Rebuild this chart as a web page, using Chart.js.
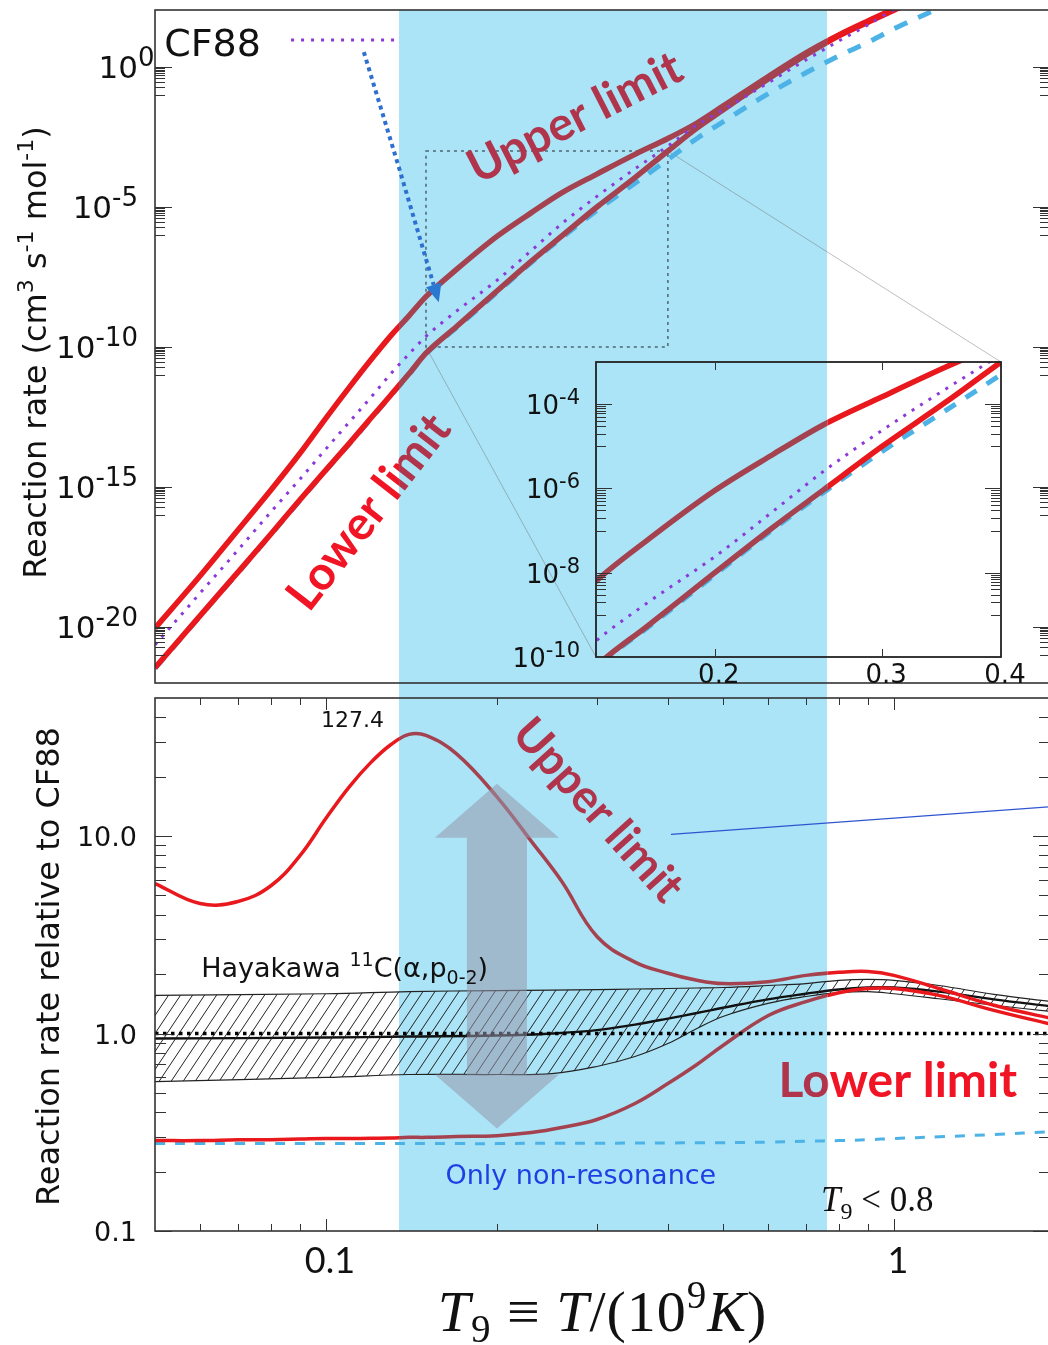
<!DOCTYPE html>
<html>
<head>
<meta charset="utf-8">
<script src="https://cdn.jsdelivr.net/npm/chart.js@4.4.1/dist/chart.umd.min.js"></script>
<style>
  html, body { margin: 0; padding: 0; background: #fff; overflow: hidden; }
  #fig { position: relative; width: 1048px; height: 1345px; overflow: hidden; background: #fff; }
  #fig canvas { position: absolute; }
  #band { position: absolute; background: #aae4f6; }
</style>
</head>
<body>
<div id="fig">
  <div id="band"></div>
  <canvas id="topchart" width="1052" height="690" style="left:0;top:0"></canvas>
  <canvas id="bottomchart" width="1052" height="655" style="left:0;top:690px"></canvas>
  <canvas id="insetchart" width="560" height="345" style="left:480px;top:350px"></canvas>
</div>
<script>
// temperatures (T9) shared by the rate curves
const T9 = [0.05, 0.06, 0.07, 0.08, 0.09, 0.1, 0.11, 0.12, 0.13, 0.14, 0.15, 0.17, 0.2, 0.23, 0.26,
            0.3, 0.35, 0.4, 0.45, 0.5, 0.6, 0.7, 0.8, 0.9, 1.0, 1.2, 1.5, 1.9];

// top panel: reaction rate (cm3 s-1 mol-1)
const rateUpper = [9.1e-21, 6.6e-19, 2.9e-17, 7.8e-16, 1.6e-14, 2.9e-13, 3.7e-12, 3.5e-11, 2.5e-10, 1.3e-9,
                   6.3e-9, 6.0e-8, 8.9e-7, 6.3e-6, 3.2e-5, 1.5e-4, 7.6e-4, 2.8e-3, 1.0e-2, 4.0e-2,
                   0.45, 3.2, 14, 44, 117, 630, 4000, 25000];
const rateLower = [3.5e-22, 2.5e-20, 9.1e-19, 2.1e-17, 3.5e-16, 4.1e-15, 3.7e-14, 2.9e-13, 1.9e-12, 1.1e-11,
                   6.0e-11, 5.5e-10, 1.0e-8, 1.17e-7, 9.1e-7, 1.0e-5, 1.12e-4, 1.0e-3, 6.6e-3, 2.9e-2,
                   0.37, 2.7, 13, 40, 107, 560, 3500, 22000];
const rateCF88 = [2.3e-21, 1.6e-19, 5.6e-18, 1.3e-16, 1.9e-15, 2.3e-14, 2.1e-13, 1.6e-12, 1.1e-11, 5.6e-11,
                  2.4e-10, 1.95e-9, 2.4e-8, 2.8e-7, 2.5e-6, 2.4e-5, 2.3e-4, 1.5e-3, 8.5e-3, 2.9e-2,
                  0.27, 1.8, 8.5, 32, 110, 560, 3500, 22000];
const rateNonRes = [3.3e-22, 2.4e-20, 8.6e-19, 2.0e-17, 3.3e-16, 3.9e-15, 3.5e-14, 2.7e-13, 1.8e-12, 1.05e-11,
                    5.7e-11, 5.0e-10, 8.9e-9, 1.05e-7, 7.9e-7, 7.6e-6, 7.1e-5, 5.0e-4, 2.8e-3, 1.1e-2,
                    0.11, 0.62, 2.5, 7.6, 23, 126, 1000, 7900];

// bottom panel: rate relative to CF88
const ratioUpper = [5.75, 4.55, 4.66, 5.6, 7.96, 12.3, 17.8, 23.6, 29.0, 32.7, 32.3, 26.0, 15.8, 9.4, 5.9,
                    3.1, 2.3, 2.02, 1.86, 1.79, 1.83, 1.97, 2.04, 2.06, 1.97, 1.69, 1.39, 1.19];
const ratioLower = [0.287, 0.287, 0.290, 0.290, 0.292, 0.294, 0.294, 0.295, 0.296, 0.298, 0.298, 0.301, 0.304, 0.315, 0.334,
                    0.367, 0.442, 0.558, 0.697, 0.870, 1.23, 1.45, 1.61, 1.69, 1.69, 1.56, 1.31, 1.11];
const ratioNonRes = [0.277, 0.277, 0.277, 0.277, 0.277, 0.277, 0.277, 0.277, 0.277, 0.277, 0.277, 0.277, 0.277, 0.278, 0.278,
                     0.278, 0.279, 0.279, 0.280, 0.280, 0.282, 0.285, 0.287, 0.290, 0.294, 0.300, 0.308, 0.319];
const cf88T9 = [0.05, 1.9];
const cf88Ratio = [1, 1];

// Hayakawa 11C(a,p0-2) band
const hayT9 = [0.05, 0.1, 0.14, 0.2, 0.25, 0.3, 0.35, 0.4, 0.45, 0.5, 0.6, 0.7, 0.8, 0.9, 1.0, 1.2, 1.5, 1.9];
const hayHigh = [1.56, 1.59, 1.63, 1.65, 1.66, 1.67, 1.68, 1.69, 1.70, 1.71, 1.75, 1.79, 1.86, 1.88, 1.86, 1.75, 1.58, 1.45];
const hayMid = [0.943, 0.954, 0.965, 0.977, 1.0, 1.04, 1.11, 1.19, 1.27, 1.35, 1.49, 1.59, 1.67, 1.71, 1.71, 1.63, 1.49, 1.37];
const hayLow = [0.571, 0.599, 0.62, 0.62, 0.627, 0.681, 0.765, 0.89, 1.06, 1.22, 1.42, 1.54, 1.61, 1.63, 1.59, 1.50, 1.39, 1.29];

// axis ticks
const topExponents = [0, -5, -10, -15, -20];
const insetExponents = [-4, -6, -8, -10];
const insetXTicks = [0.2, 0.3, 0.4];
const ratioTicks = [10, 1, 0.1];
const ratioTickText = ['10.0', '1.0', '0.1'];
const tempTicks = [0.1, 1];
const tempTickText = ['0.1', '1'];

const BAND_T9 = [0.1345, 0.764];   // shaded temperature window
const ZOOM_BOX = [0.15, 0.4, 1e-10, 1e-3];

const RED = '#e8181d';
const BROWN = '#a5424f';
const RED_TXT = '#f01424';
const BROWN_TXT = '#b0344b';
const PURPLE = '#8b3ad8';
const SKY = '#4db3e6';
const AXIS = '#333';
const SANS = '"DejaVu Sans", sans-serif';
const SERIF = '"Liberation Serif", "DejaVu Serif", serif';

let bandX = null;
let insetChart = null;

function pt(chart, x, y) {
  return [chart.scales.x.getPixelForValue(x), chart.scales.y.getPixelForValue(y)];
}

function bandLocal(chart) {
  const o = chart.canvas.offsetLeft;
  return [bandX[0] - o, bandX[1] - o];
}

function clipBand(chart, inside) {
  const ctx = chart.ctx;
  const [l, r] = bandLocal(chart);
  ctx.beginPath();
  if (!inside) ctx.rect(0, 0, chart.width, chart.height);
  ctx.rect(l, 0, r - l, chart.height);
  ctx.clip('evenodd');
}

// red outside the shaded window, brownish inside
Chart.register({
  id: 'bandClip',
  beforeDatasetDraw(chart, args) {
    const ds = chart.data.datasets[args.index];
    if (!ds.band || !bandX) return;
    chart.ctx.save();
    clipBand(chart, ds.band === 'in');
  },
  afterDatasetDraw(chart, args) {
    const ds = chart.data.datasets[args.index];
    if (ds.band && bandX) chart.ctx.restore();
  }
});

function curve(xs, ys, color, width, dash, band, smooth) {
  const ds = {
    data: xs.map((x, i) => ({x: x, y: ys[i]})),
    borderColor: color,
    borderWidth: width,
    borderDash: dash || [],
    pointRadius: 0,
    fill: false,
    clip: 0,
    band: band
  };
  if (smooth) ds.tension = 0.4;
  else ds.cubicInterpolationMode = 'monotone';
  return ds;
}

function rich(ctx, parts, x, y, align) {
  let w = 0;
  parts.forEach(p => { ctx.font = p[1]; w += ctx.measureText(p[0]).width; });
  let cx = align === 'right' ? x - w : (align === 'center' ? x - w / 2 : x);
  ctx.textAlign = 'left';
  ctx.textBaseline = 'alphabetic';
  parts.forEach(p => {
    ctx.font = p[1];
    ctx.fillText(p[0], cx, y + (p[2] || 0));
    cx += ctx.measureText(p[0]).width;
  });
  return w;
}

function limitLabel(chart, text, at, angle, size) {
  const ctx = chart.ctx;
  const [cx, cy] = pt(chart, at[0], at[1]);
  [[RED_TXT, false], [BROWN_TXT, true]].forEach(([col, inside]) => {
    ctx.save();
    clipBand(chart, inside);
    ctx.translate(cx, cy);
    ctx.rotate(angle * Math.PI / 180);
    ctx.font = 'bold ' + size + 'px Lato, "Open Sans", sans-serif';
    ctx.textAlign = 'center';
    ctx.textBaseline = 'middle';
    ctx.fillStyle = col;
    ctx.fillText(text, 0, 0);
    ctx.restore();
  });
}

function frame(chart, width) {
  const {ctx, chartArea: a} = chart;
  ctx.save();
  ctx.strokeStyle = AXIS;
  ctx.lineWidth = width;
  ctx.strokeRect(a.left, a.top, a.right - a.left, a.bottom - a.top);
  ctx.restore();
}

// majors plus the decade just below each of them
function decadeTicks(chart, exps, longLen, shortLen) {
  const {ctx, chartArea: a} = chart;
  const y = chart.scales.y;
  ctx.save();
  ctx.strokeStyle = AXIS;
  ctx.lineWidth = 1;
  ctx.beginPath();
  exps.forEach(e => {
    const m = Math.pow(10, e);
    for (let k = 1; k <= 10; k++) {
      const v = m * k / 10;
      if (v < y.min || v > y.max) continue;
      const p = Math.round(y.getPixelForValue(v)) + 0.5;
      const len = k === 10 ? longLen : shortLen;
      ctx.moveTo(a.left, p); ctx.lineTo(a.left + len, p);
      ctx.moveTo(a.right, p); ctx.lineTo(a.right - len, p);
    }
  });
  ctx.stroke();
  ctx.restore();
}

function logTicksY(chart, decades, longLen, shortLen) {
  const {ctx, chartArea: a} = chart;
  const y = chart.scales.y;
  ctx.save();
  ctx.strokeStyle = AXIS;
  ctx.lineWidth = 1;
  ctx.beginPath();
  decades.forEach(d => {
    for (let k = 1; k <= 9; k++) {
      const v = d * k;
      if (v < y.min || v >= y.max) continue;
      const p = Math.round(y.getPixelForValue(v)) + 0.5;
      const len = k === 1 ? longLen : shortLen;
      ctx.moveTo(a.left, p); ctx.lineTo(a.left + len, p);
      ctx.moveTo(a.right, p); ctx.lineTo(a.right - len, p);
    }
  });
  ctx.stroke();
  ctx.restore();
}

function logTicksX(chart, decades, longLen, shortLen) {
  const {ctx, chartArea: a} = chart;
  const x = chart.scales.x;
  ctx.save();
  ctx.strokeStyle = AXIS;
  ctx.lineWidth = 1;
  ctx.beginPath();
  decades.forEach(d => {
    for (let k = 1; k <= 9; k++) {
      const v = d * k;
      if (v <= x.min || v >= x.max) continue;
      const p = Math.round(x.getPixelForValue(v)) + 0.5;
      const len = k === 1 ? longLen : shortLen;
      ctx.moveTo(p, a.bottom); ctx.lineTo(p, a.bottom - len);
      ctx.moveTo(p, a.top); ctx.lineTo(p, a.top + len);
    }
  });
  ctx.stroke();
  ctx.restore();
}

function baseOptions(xmin, xmax, ymin, ymax, pad) {
  return {
    responsive: false,
    animation: false,
    events: [],
    layout: {padding: pad},
    plugins: {legend: {display: false}, tooltip: {enabled: false}},
    scales: {
      x: {type: 'logarithmic', display: false, min: xmin, max: xmax},
      y: {type: 'logarithmic', display: false, min: ymin, max: ymax}
    }
  };
}

// ---------------- top panel ----------------
const topDecor = {
  id: 'topDecor',
  afterLayout(chart) {
    const x = chart.scales.x;
    const o = chart.canvas.offsetLeft;
    bandX = [x.getPixelForValue(BAND_T9[0]) + o, x.getPixelForValue(BAND_T9[1]) + o];
  },
  beforeDatasetsDraw(chart) {
    const ctx = chart.ctx;
    const [x0, y0] = pt(chart, ZOOM_BOX[0], ZOOM_BOX[3]);
    const [x1, y1] = pt(chart, ZOOM_BOX[1], ZOOM_BOX[2]);
    ctx.save();
    ctx.strokeStyle = '#4e6472';
    ctx.lineWidth = 1.5;
    ctx.setLineDash([3, 4]);
    ctx.strokeRect(x0, y0, x1 - x0, y1 - y0);
    ctx.setLineDash([]);
    if (insetChart) {
      const ia = insetChart.chartArea;
      const ox = insetChart.canvas.offsetLeft - chart.canvas.offsetLeft;
      const oy = insetChart.canvas.offsetTop - chart.canvas.offsetTop;
      ctx.strokeStyle = 'rgba(110,110,110,0.45)';
      ctx.lineWidth = 1;
      ctx.beginPath();
      ctx.moveTo(x1, y0); ctx.lineTo(ia.right + ox, ia.top + oy);
      ctx.moveTo(x0, y1); ctx.lineTo(ia.left + ox, ia.bottom + oy);
      ctx.stroke();
    }
    ctx.restore();
  },
  afterDraw(chart) {
    const ctx = chart.ctx;
    const a = chart.chartArea;
    frame(chart, 1.6);
    decadeTicks(chart, topExponents, 17, 10);

    // y tick labels 10^n
    ctx.save();
    ctx.fillStyle = '#111';
    topExponents.forEach(e => {
      const y = chart.scales.y.getPixelForValue(Math.pow(10, e));
      const parts = [['10', '31px ' + SANS, 0], [String(e), '26px ' + SANS, -12]];
      ctx.font = parts[0][1];
      const bw = ctx.measureText('10').width;
      const right = a.left - 17;
      if (e === 0) rich(ctx, parts, right - bw, y + 11, 'left');
      else rich(ctx, parts, right, y + 11, 'right');
    });
    // y title
    ctx.translate(a.left - 120, (a.top + a.bottom) / 2 + 6);
    ctx.rotate(-Math.PI / 2);
    const b = '32px ' + SANS, s = '22px ' + SANS;
    rich(ctx, [['Reaction rate (cm', b, 0], ['3', s, -13], [' s', b, 0], ['-1', s, -13],
               [' mol', b, 0], ['-1', s, -13], [')', b, 0]], 0, 11, 'center');
    ctx.restore();

    // CF88 legend entry
    ctx.save();
    ctx.fillStyle = '#111';
    ctx.font = '38px ' + SANS;
    ctx.textBaseline = 'alphabetic';
    const [tx, ty] = pt(chart, 0.0519, 2.47);
    ctx.fillText('CF88', tx, ty);
    const [lx0, ly] = pt(chart, 0.0868, 9.2);
    const [lx1] = pt(chart, BAND_T9[0], 9.2);
    ctx.strokeStyle = PURPLE;
    ctx.lineWidth = 3;
    ctx.setLineDash([3, 7]);
    ctx.beginPath(); ctx.moveTo(lx0, ly); ctx.lineTo(lx1, ly); ctx.stroke();

    // dotted pointer arrow
    const path = [[0.1166, 3.4], [0.1345, 2.47e-4], [0.158, 4.0e-9]].map(p => pt(chart, p[0], p[1]));
    const tip = path[2], prev = path[1];
    const ang = Math.atan2(tip[1] - prev[1], tip[0] - prev[0]);
    const hl = 18, hw = 8;
    const bx = tip[0] - hl * Math.cos(ang), by = tip[1] - hl * Math.sin(ang);
    ctx.strokeStyle = '#2f6fcf';
    ctx.lineWidth = 4;
    ctx.setLineDash([4, 4]);
    ctx.beginPath();
    ctx.moveTo(path[0][0], path[0][1]);
    ctx.lineTo(path[1][0], path[1][1]);
    ctx.lineTo(bx, by);
    ctx.stroke();
    ctx.setLineDash([]);
    ctx.fillStyle = '#2a78d0';
    ctx.beginPath();
    ctx.moveTo(tip[0], tip[1]);
    ctx.lineTo(bx + hw * Math.sin(ang), by - hw * Math.cos(ang));
    ctx.lineTo(bx - hw * Math.sin(ang), by + hw * Math.cos(ang));
    ctx.closePath();
    ctx.fill();
    ctx.restore();

    limitLabel(chart, 'Upper limit', [0.2745, 0.0151], -27, 47);
    limitLabel(chart, 'Lower limit', [0.119, 1.26e-16], -52, 47);
  }
};

const topChart = new Chart(document.getElementById('topchart'), {
  type: 'line',
  data: {
    datasets: [
      curve(T9, rateCF88, PURPLE, 3, [3, 7]),
      curve(T9, rateUpper, RED, 5.5, null, 'out'),
      curve(T9, rateUpper, BROWN, 5.5, null, 'in'),
      curve(T9, rateLower, RED, 5.5, null, 'out'),
      curve(T9, rateLower, BROWN, 5.5, null, 'in'),
      curve(T9, rateNonRes, SKY, 5, [14, 12])
    ]
  },
  options: baseOptions(0.05, 1.883, 1e-22, 108.6, {left: 155, top: 10, right: 2, bottom: 7}),
  plugins: [topDecor]
});

// ---------------- bottom panel ----------------
function hatchPattern(ctx) {
  const c = document.createElement('canvas');
  c.width = 12; c.height = 18;
  const g = c.getContext('2d');
  g.strokeStyle = '#222';
  g.lineWidth = 1;
  [-12, 0, 12].forEach(d => {
    g.beginPath(); g.moveTo(d, 18); g.lineTo(d + 12, 0); g.stroke();
  });
  return ctx.createPattern(c, 'repeat');
}

const bottomCanvas = document.getElementById('bottomchart');
const hatch = hatchPattern(bottomCanvas.getContext('2d'));

const bottomDecor = {
  id: 'bottomDecor',
  afterDatasetsDraw(chart) {
    const ctx = chart.ctx;
    // big double arrow
    const [cx, yTop] = pt(chart, 0.2, 18.4);
    const yBot = chart.scales.y.getPixelForValue(0.33);
    const hw = 62, sw = 30, hh = 54;
    ctx.save();
    ctx.fillStyle = 'rgba(150,150,172,0.55)';
    ctx.beginPath();
    ctx.moveTo(cx, yTop);
    ctx.lineTo(cx + hw, yTop + hh); ctx.lineTo(cx + sw, yTop + hh);
    ctx.lineTo(cx + sw, yBot - hh); ctx.lineTo(cx + hw, yBot - hh);
    ctx.lineTo(cx, yBot);
    ctx.lineTo(cx - hw, yBot - hh); ctx.lineTo(cx - sw, yBot - hh);
    ctx.lineTo(cx - sw, yTop + hh); ctx.lineTo(cx - hw, yTop + hh);
    ctx.closePath();
    ctx.fill();
    ctx.restore();
  },
  afterDraw(chart) {
    const ctx = chart.ctx;
    const a = chart.chartArea;
    frame(chart, 1.6);
    logTicksY(chart, [0.1, 1, 10], 17, 11);
    logTicksX(chart, [0.01, 0.1, 1], 12, 7);

    ctx.save();
    ctx.fillStyle = '#111';
    ctx.font = '27px ' + SANS;
    ctx.textAlign = 'right';
    ratioTicks.forEach((v, i) => {
      ctx.fillText(ratioTickText[i], a.left - 18, chart.scales.y.getPixelForValue(v) + 10);
    });
    ctx.font = '36px Lato, sans-serif';
    ctx.textAlign = 'center';
    tempTicks.forEach((v, i) => {
      ctx.fillText(tempTickText[i], chart.scales.x.getPixelForValue(v) + 4, a.bottom + 42);
    });

    // x title
    const it = 'italic 58px ' + SERIF, rg = '58px ' + SERIF, sm = '39px ' + SERIF;
    ctx.letterSpacing = '1px';
    rich(ctx, [['T', it, 0], ['9', sm, 11], [' \u2261 ', rg, 0], ['T', it, 0], ['/(10', rg, 0],
               ['9', sm, -23], ['K', it, 0], [')', rg, 0]], (a.left + a.right) / 2, a.bottom + 100, 'center');
    ctx.letterSpacing = '0px';

    // annotations
    let [x, y] = pt(chart, 0.098, 35.8);
    ctx.font = '22px ' + SANS;
    ctx.textAlign = 'left';
    ctx.fillText('127.4', x, y);

    [x, y] = pt(chart, 0.0603, 1.94);
    const hb = '27px ' + SANS, hs = '19px ' + SANS;
    rich(ctx, [['Hayakawa ', hb, 0], ['11', hs, -11], ['C(\u03b1,p', hb, 0], ['0-2', hs, 7], [')', hb, 0]], x, y, 'left');

    [x, y] = pt(chart, 0.281, 0.195);
    ctx.fillStyle = '#1d3fe3';
    rich(ctx, [['Only non-resonance', '27px ' + SANS, 0]], x, y + 10, 'center');

    [x, y] = pt(chart, 0.744, 0.127);
    ctx.fillStyle = '#111';
    rich(ctx, [['T', 'italic 35px ' + SERIF, 0], ['9', '24px ' + SERIF, 8], [' < 0.8', '35px ' + SERIF, 0]], x, y, 'left');

    // thin blue pointer line
    const p0 = pt(chart, 0.405, 10.2), p1 = pt(chart, 1.9, 14.1);
    ctx.strokeStyle = '#2f55d0';
    ctx.lineWidth = 1.2;
    ctx.beginPath(); ctx.moveTo(p0[0], p0[1]); ctx.lineTo(p1[0], p1[1]); ctx.stroke();

    // y title
    ctx.translate(a.left - 107, (a.top + a.bottom) / 2 + 2);
    ctx.rotate(-Math.PI / 2);
    ctx.fillStyle = '#111';
    rich(ctx, [['Reaction rate relative to CF88', '32px ' + SANS, 0]], 0, 11, 'center');
    ctx.restore();

    limitLabel(chart, 'Upper limit', [0.301, 13.5], 48, 46);
    limitLabel(chart, 'Lower limit', [1.016, 0.571], 0, 48);
  }
};

const hayUpperSet = curve(hayT9, hayHigh, '#222', 1.2, null, null, true);
hayUpperSet.fill = {target: 7};
hayUpperSet.backgroundColor = hatch;

const bottomChart = new Chart(bottomCanvas, {
  type: 'line',
  data: {
    datasets: [
      curve(cf88T9, cf88Ratio, '#000', 3.5, [3.5, 4.5]),
      curve(T9, ratioUpper, RED, 3.5, null, 'out', true),
      curve(T9, ratioUpper, BROWN, 3.5, null, 'in', true),
      curve(T9, ratioLower, RED, 3.5, null, 'out', true),
      curve(T9, ratioLower, BROWN, 3.5, null, 'in', true),
      hayUpperSet,
      curve(hayT9, hayMid, '#111', 2.4, null, null, true),
      curve(hayT9, hayLow, '#222', 1.2, null, null, true),
      curve(T9, ratioNonRes, SKY, 3, [10, 10], null, true)
    ]
  },
  options: baseOptions(0.05, 1.883, 0.1, 50, {left: 155, top: 8, right: 2, bottom: 114}),
  plugins: [bottomDecor]
});

// ---------------- inset ----------------
const insetDecor = {
  id: 'insetDecor',
  afterDraw(chart) {
    const ctx = chart.ctx;
    const a = chart.chartArea;
    ctx.save();
    ctx.strokeStyle = '#222';
    ctx.lineWidth = 1.8;
    ctx.strokeRect(a.left, a.top, a.right - a.left, a.bottom - a.top);
    ctx.restore();
    decadeTicks(chart, insetExponents, 16, 10);

    ctx.save();
    ctx.strokeStyle = AXIS;
    ctx.lineWidth = 1;
    ctx.beginPath();
    insetXTicks.forEach(v => {
      const p = Math.round(chart.scales.x.getPixelForValue(v)) + 0.5;
      ctx.moveTo(p, a.bottom); ctx.lineTo(p, a.bottom - 8);
      ctx.moveTo(p, a.top); ctx.lineTo(p, a.top + 8);
    });
    ctx.stroke();

    ctx.fillStyle = '#111';
    ctx.font = '26px ' + SANS;
    ctx.textAlign = 'center';
    insetXTicks.forEach(v => {
      ctx.fillText(String(v), chart.scales.x.getPixelForValue(v) + 4, a.bottom + 26);
    });
    insetExponents.forEach(e => {
      const y = chart.scales.y.getPixelForValue(Math.pow(10, e));
      rich(ctx, [['10', '26px ' + SANS, 0], [String(e), '21px ' + SANS, -10]], a.left - 16, y + 10, 'right');
    });
    ctx.restore();
  }
};

insetChart = new Chart(document.getElementById('insetchart'), {
  type: 'line',
  data: {
    datasets: [
      curve(T9, rateCF88, PURPLE, 3, [3, 7]),
      curve(T9, rateUpper, RED, 5.5, null, 'out'),
      curve(T9, rateUpper, BROWN, 5.5, null, 'in'),
      curve(T9, rateLower, RED, 5.5, null, 'out'),
      curve(T9, rateLower, BROWN, 5.5, null, 'in'),
      curve(T9, rateNonRes, SKY, 5, [13, 12])
    ]
  },
  options: baseOptions(0.15, 0.4, 1e-10, 1e-3, {left: 116, top: 12, right: 39, bottom: 38}),
  plugins: [insetDecor]
});

// shaded window spans both panels
const band = document.getElementById('band');
band.style.left = bandX[0] + 'px';
band.style.width = (bandX[1] - bandX[0]) + 'px';
band.style.top = (topChart.canvas.offsetTop + topChart.chartArea.top) + 'px';
band.style.height = (bottomChart.canvas.offsetTop + bottomChart.chartArea.bottom - topChart.chartArea.top) + 'px';
topChart.draw();
</script>
</body>
</html>
